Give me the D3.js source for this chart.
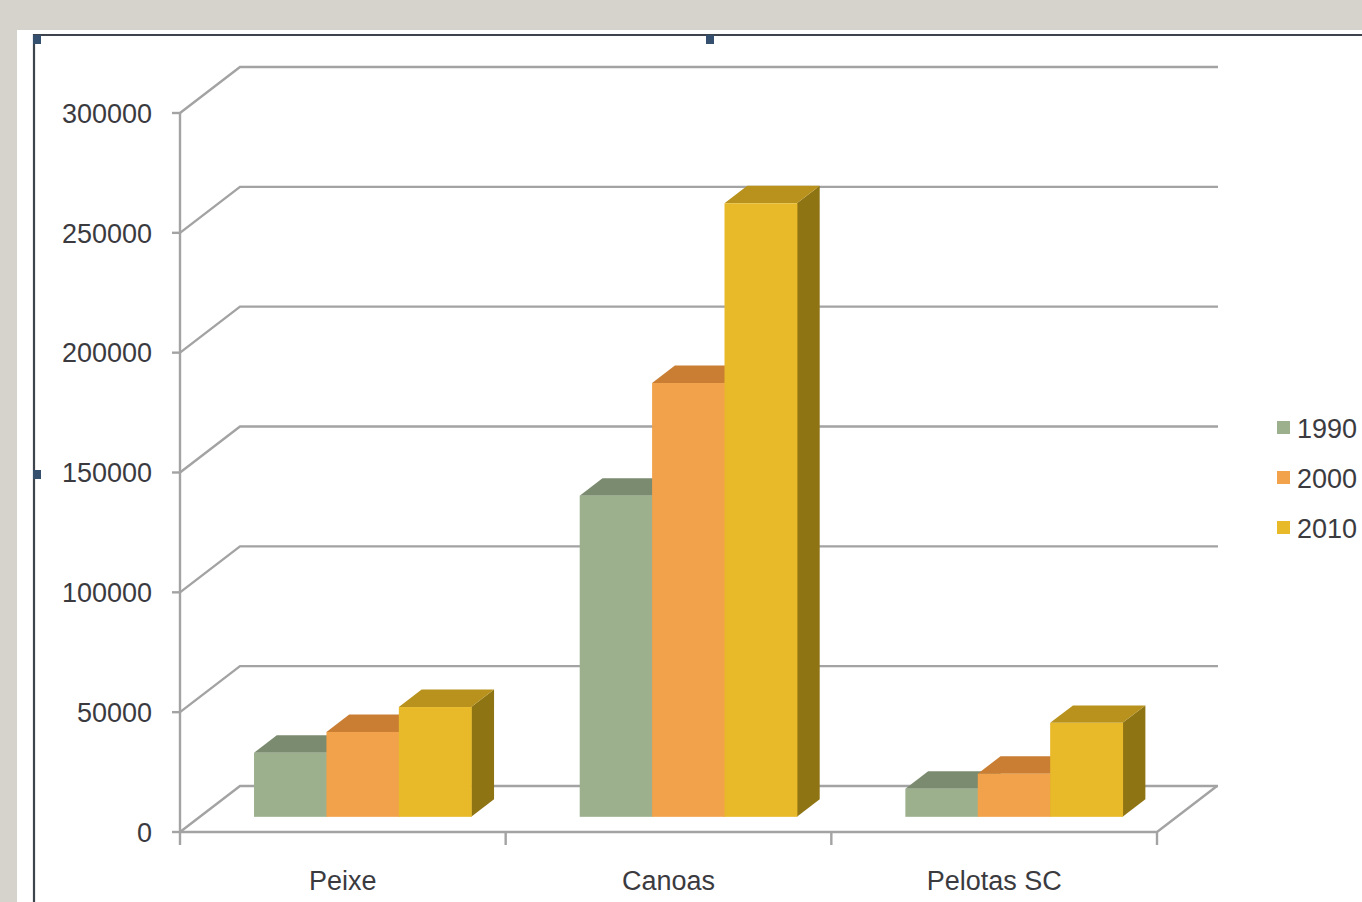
<!DOCTYPE html>
<html>
<head>
<meta charset="utf-8">
<script src="https://cdn.jsdelivr.net/npm/d3@7"></script>
<style>
  body { margin: 0; background: #d6d3cc; }
  svg { display: block; }
  text { font-family: "Liberation Sans", Arial, sans-serif; fill: #3b3b3f; }
</style>
</head>
<body>
<div id="chart"></div>
<script>
// data
const categories = ['Peixe', 'Canoas', 'Pelotas SC'];
const years = ['1990', '2000', '2010'];
const v1990 = [26700, 134000, 11700];
const v2000 = [35400, 181000, 18000];
const v2010 = [45800, 256000, 39200];
const yTicks = [0, 50000, 100000, 150000, 200000, 250000, 300000];

const series = [v1990, v2000, v2010];
const colors = {
  front: ['#9db08e', '#f2a24a', '#e8b928'],
  top: ['#7b8b6f', '#c97e33', '#b8921c'],
  side: ['#6f7e63', '#a96a28', '#8f7414']
};

const W = 1362, H = 902;
const svg = d3.select('#chart').append('svg')
  .attr('width', W).attr('height', H);

// white slide panel + dark frame
svg.append('rect').attr('x', 17).attr('y', 30).attr('width', W - 17).attr('height', H - 30).attr('fill', '#fff');
svg.append('path').attr('d', `M34,${H} V35 H${W}`).attr('fill', 'none')
  .attr('stroke', '#3e444c').attr('stroke-width', 2.2);
[[33, 35], [706, 35], [33, 470]].forEach(p => {
  svg.append('rect').attr('x', p[0]).attr('y', p[1]).attr('width', 8).attr('height', 9).attr('fill', '#34506e');
});

// scales (front plane) and depth vector
const x = d3.scaleBand().domain(categories).range([180, 1157]);
const y = d3.scaleLinear().domain([0, 300000]).range([832, 113]);
const D = { x: 60, y: -46 };
const groupW = x.bandwidth() * 0.667;
const xs = d3.scaleBand().domain(years).range([0, groupW]);
const f0 = 0.33, fd = 0.38; // bar front depth and bar depth as fractions of D

const grid = svg.append('g').attr('stroke', '#a3a3a3').attr('stroke-width', 2.4).attr('fill', 'none');
// back wall gridlines with the diagonal to the front axis
grid.selectAll('path.g').data(yTicks).join('path')
  .attr('class', 'g')
  .attr('d', d => `M${x.range()[0]},${y(d)} L${x.range()[0] + D.x},${y(d) + D.y} H${x.range()[1] + D.x + 1}`);
// floor front edge and right edge
grid.append('path')
  .attr('d', `M${x.range()[0]},${y(0)} H${x.range()[1]} L${x.range()[1] + D.x},${y(0) + D.y}`);
// front value axis
grid.append('path').attr('d', `M${x.range()[0]},${y(300000)} V${y(0) + 13}`);
// value ticks
grid.selectAll('path.t').data(yTicks).join('path')
  .attr('class', 't')
  .attr('d', d => `M${x.range()[0] - 8},${y(d)} H${x.range()[0]}`);
// category ticks
const catEdges = categories.map(c => x(c)).concat([x.range()[1]]);
grid.selectAll('path.c').data(catEdges.slice(1)).join('path')
  .attr('class', 'c')
  .attr('d', d => `M${d},${y(0)} V${y(0) + 13}`);

// value labels
svg.append('g').selectAll('text').data(yTicks).join('text')
  .attr('x', 152).attr('y', d => y(d))
  .attr('dy', '0.36em')
  .attr('text-anchor', 'end')
  .attr('font-size', 27)
  .text(d => d);

// category labels
svg.append('g').selectAll('text').data(categories).join('text')
  .attr('x', d => x(d) + x.bandwidth() / 2)
  .attr('y', 890)
  .attr('text-anchor', 'middle')
  .attr('font-size', 27)
  .text(d => d);

// 3D bars
const bars = [];
categories.forEach((c, ci) => {
  years.forEach((yr, si) => {
    bars.push({ c, yr, si, v: series[si][ci] });
  });
});

const dx = fd * D.x, dy = fd * D.y;
function geom(d) {
  const x0 = x(d.c) + (x.bandwidth() - groupW) / 2 + xs(d.yr) + f0 * D.x;
  const w = xs.bandwidth();
  const yt = y(d.v) + f0 * D.y;
  const yb = y(0) + f0 * D.y;
  return { x0, w, yt, yb };
}

const barG = svg.append('g').selectAll('g').data(bars).join('g');
barG.append('path')
  .attr('fill', d => colors.side[d.si])
  .attr('d', d => {
    const g = geom(d);
    return `M${g.x0 + g.w},${g.yt} L${g.x0 + g.w + dx},${g.yt + dy} L${g.x0 + g.w + dx},${g.yb + dy} L${g.x0 + g.w},${g.yb} Z`;
  });
barG.append('path')
  .attr('fill', d => colors.top[d.si])
  .attr('d', d => {
    const g = geom(d);
    return `M${g.x0},${g.yt} L${g.x0 + g.w},${g.yt} L${g.x0 + g.w + dx},${g.yt + dy} L${g.x0 + dx},${g.yt + dy} Z`;
  });
barG.append('rect')
  .attr('fill', d => colors.front[d.si])
  .attr('x', d => geom(d).x0)
  .attr('y', d => geom(d).yt)
  .attr('width', d => geom(d).w + 0.5)
  .attr('height', d => geom(d).yb - geom(d).yt);

// legend
const legend = svg.append('g').selectAll('g').data(years).join('g')
  .attr('transform', (d, i) => `translate(1277, ${428 + i * 50})`);
legend.append('rect').attr('x', 0).attr('y', -7).attr('width', 13).attr('height', 13)
  .attr('fill', (d, i) => colors.front[i]);
legend.append('text').attr('x', 20).attr('dy', '0.36em').attr('font-size', 27).text(d => d);
</script>
</body>
</html>
